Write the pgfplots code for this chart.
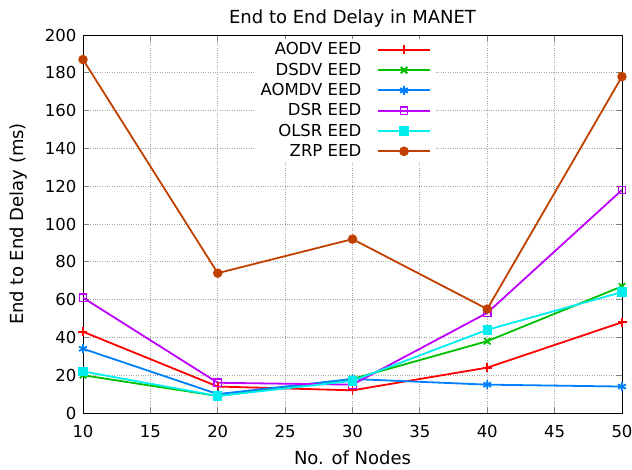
\documentclass[border=0pt]{standalone}
\usepackage{pgfplots}
\pgfplotsset{compat=1.18}
\usepackage{fontspec}
\setmainfont{DejaVu Sans}
\definecolor{gA}{HTML}{FF0000}
\definecolor{gB}{HTML}{00C000}
\definecolor{gC}{HTML}{0080FF}
\definecolor{gD}{HTML}{C000FF}
\definecolor{gE}{HTML}{00EEEE}
\definecolor{gF}{HTML}{C04000}
\begin{document}
\fontsize{16.5}{19}\selectfont
\begin{tikzpicture}
\path[use as bounding box] (0,0) rectangle (632pt,469pt);
\begin{axis}[
  at={(83pt,56pt)}, anchor=south west,
  scale only axis, width=539pt, height=378pt,
  xmin=10, xmax=50, ymin=0, ymax=200,
  xtick={10,15,...,50}, ytick={0,20,...,200},
  /pgf/number format/assume math mode=true,
  tick label style={font=\fontsize{16.5}{19}\selectfont},
  xticklabel style={yshift=-7pt},
  yticklabel style={xshift=-1pt},
  label style={font=\fontsize{18}{21}\selectfont},
  title style={font=\fontsize{18}{21}\selectfont, at={(0.5,1)}, anchor=south, yshift=-4pt},
  title={End to End Delay in MANET},
  xlabel={No. of Nodes}, ylabel={End to End Delay (ms)},
  xlabel style={yshift=-1pt},
  ylabel style={yshift=6pt},
  tick align=inside, major tick length=6pt,
  xtick pos=both, ytick pos=both,
  tick style={line width=0.8pt},
  grid=major,
  grid style={dotted, gray!70, line width=0.8pt},
  axis line style={black, line width=0.9pt},
  legend plot pos=right,
  legend cell align=right,
  legend style={at={(0.652,0.99)}, anchor=north east, draw=none, fill=white,
    font=\fontsize{16.5}{19}\selectfont, row sep=2.6pt,
    nodes={inner sep=1.5pt, fill=none}},
  legend image code/.code={
    \path (0cm,-0.1cm) (0cm,0.1cm);
    \draw[line width=2pt, mark repeat=2,mark phase=2] plot coordinates {(0.5cm,0cm) (1.42cm,0cm) (2.34cm,0cm)};
  },
  every axis plot/.append style={line width=1.8pt, mark size=4pt},
]
\addplot[gA, mark=+, mark size=4.5pt] coordinates {(10,43) (20,14) (30,12) (40,24) (50,48)};
\addlegendentry{AODV EED}
\addplot[gB, mark=x, mark size=4.5pt] coordinates {(10,20) (20,9) (30,18) (40,38) (50,67)};
\addlegendentry{DSDV EED}
\addplot[gC, mark=asterisk, mark size=4.5pt] coordinates {(10,34) (20,10) (30,18) (40,15) (50,14)};
\addlegendentry{AOMDV EED}
\addplot[gD, mark=square, mark size=3.8pt, mark options={line width=1.3pt}] coordinates {(10,61) (20,16) (30,15) (40,53) (50,118)};
\addlegendentry{DSR EED}
\addplot[gE, mark=square*, mark size=3.8pt] coordinates {(10,22) (20,9) (30,17) (40,44) (50,64)};
\addlegendentry{OLSR EED}
\addplot[gF, mark=*, mark size=3.8pt] coordinates {(10,187) (20,74) (30,92) (40,55) (50,178)};
\addlegendentry{ZRP EED}
\end{axis}
\end{tikzpicture}
\end{document}
